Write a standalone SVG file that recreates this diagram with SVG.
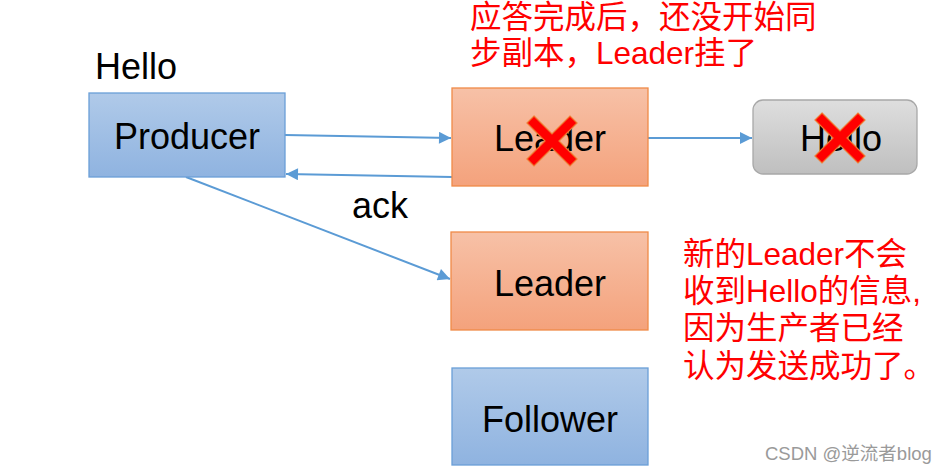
<svg xmlns="http://www.w3.org/2000/svg" width="948" height="472" viewBox="0 0 948 472">
<defs>
<linearGradient id="gBlue" x1="0" y1="0" x2="0" y2="1"><stop offset="0" stop-color="#b0cae9"/><stop offset="1" stop-color="#8fb3e0"/></linearGradient>
<linearGradient id="gOrange" x1="0" y1="0" x2="0" y2="1"><stop offset="0" stop-color="#f7c1a7"/><stop offset="1" stop-color="#f4a27c"/></linearGradient>
<linearGradient id="gGrey" x1="0" y1="0" x2="0" y2="1"><stop offset="0" stop-color="#dedede"/><stop offset="1" stop-color="#bfbfbf"/></linearGradient>
<marker id="arr" viewBox="0 0 10 10" refX="10" refY="5" markerWidth="6.5" markerHeight="6" markerUnits="strokeWidth" orient="auto"><path d="M0,0 L10,5 L0,10 z" fill="#5b9bd5"/></marker>
<polygon id="cross" points="-18,-25 0,-7 18,-25 25,-18 7,0 25,18 18,25 0,7 -18,25 -25,18 -7,0 -25,-18" fill="#ff0000" stroke="#f07830" stroke-width="1.2"/>
</defs>
<style>
.blue{fill:url(#gBlue);stroke:#6a9fd8;stroke-width:1.3}
.orange{fill:url(#gOrange);stroke:#f08a48;stroke-width:1.3}
.grey{fill:url(#gGrey);stroke:#a8a8a8;stroke-width:1.3}
.lbl{font-family:"Liberation Sans",Arial,sans-serif;font-size:36px;fill:#000}
.red{font-family:"Liberation Sans","Noto Sans CJK SC",sans-serif;font-size:31.5px;fill:#ff0000}
.con{stroke:#5b9bd5;stroke-width:2;fill:none;marker-end:url(#arr)}
</style>
<rect width="948" height="472" fill="#ffffff"/>
<g id="connectors">
<line class="con" x1="285" y1="135" x2="451" y2="138"/>
<line class="con" x1="452" y1="177" x2="286" y2="174"/>
<line class="con" x1="186" y1="177" x2="450" y2="279"/>
<line class="con" x1="648" y1="138" x2="752" y2="138"/>
</g>
<g id="hello-label"><text class="lbl" x="95" y="79">Hello</text></g>
<g id="producer"><rect class="blue" x="89" y="93" width="196" height="84"/><text class="lbl" x="187" y="149" text-anchor="middle">Producer</text></g>
<g id="leader1"><rect class="orange" x="452" y="88" width="196" height="98"/><text class="lbl" x="550" y="151" text-anchor="middle">Leader</text><use href="#cross" x="552" y="141"/></g>
<g id="hello-node"><rect class="grey" x="753" y="100" width="164" height="74" rx="10"/><text class="lbl" x="841" y="151" text-anchor="middle">Hello</text><use href="#cross" x="840" y="138"/></g>
<g id="ack"><text class="lbl" x="352" y="218">ack</text></g>
<g id="leader2"><rect class="orange" x="451" y="232" width="197" height="98"/><text class="lbl" x="550" y="296" text-anchor="middle">Leader</text></g>
<g id="follower"><rect class="blue" x="452" y="368" width="196" height="97"/><text class="lbl" x="550" y="432" text-anchor="middle">Follower</text></g>
<g id="note1"><text class="red" x="470" y="28">应答完成后，还没开始同</text><text class="red" x="470" y="64">步副本，Leader挂了</text></g>
<g id="note2"><text class="red" x="683" y="265">新的Leader不会</text><text class="red" x="683" y="302">收到Hello的信息,</text><text class="red" x="683" y="339">因为生产者已经</text><text class="red" x="683" y="377">认为发送成功了。</text></g>
<g id="watermark"><text x="765" y="460" font-family="'Liberation Sans','Noto Sans CJK SC',sans-serif" font-size="18.5" fill="#9a9a9a">CSDN @逆流者blog</text></g>
</svg>
